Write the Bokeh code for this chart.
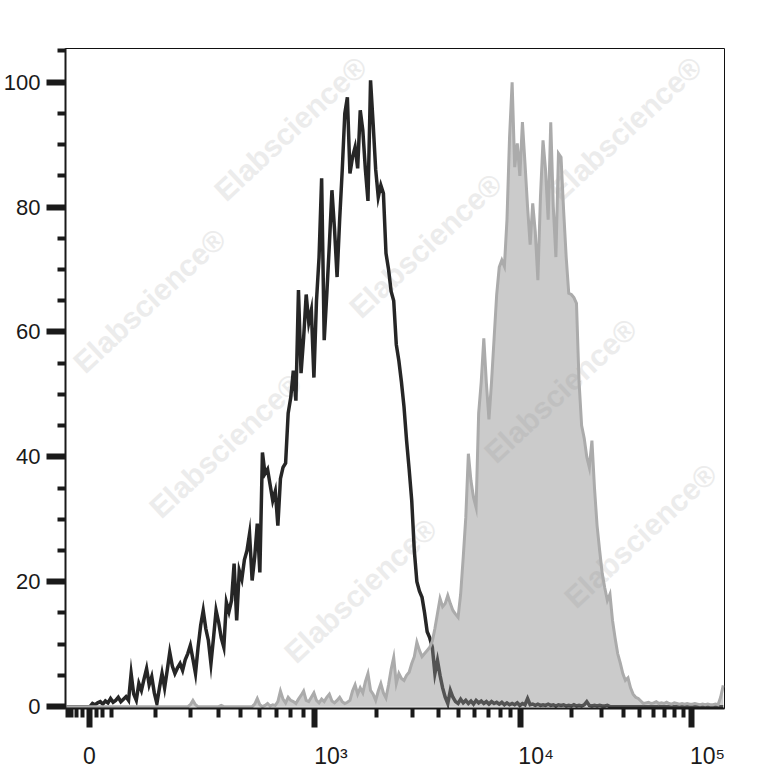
import numpy as np
from bokeh.plotting import figure
from bokeh.models import Range1d, FixedTicker
from bokeh.core.properties import value
from bokeh.embed import file_html
from bokeh.resources import INLINE

# ---------------- data: % of max, one value per display channel (256 channels) --------------
BLACK_COUNTS = [
    0, 0, 0, 0, 0, 0, 0, 0, 0, 0, 0.5, 0.3, 0.6, 0.8, 0.4, 0.9,
    0.6, 1.3, 0.7, 1.0, 1.5, 0.8, 1.2, 1.6, 1.0, 5.3, 2.0, 1.0, 3.7, 2.6, 4.4, 6.1,
    3.5, 4.8, 2.2, 0.5, 3.0, 5.3, 3.0, 5.8, 8.7, 6.5, 5.3, 6.2, 6.9, 5.8, 7.5, 8.5,
    9.8, 7.6, 5.3, 9.5, 13.0, 15.4, 12.5, 10.6, 6.9, 11.0, 15.4, 13.5, 11.0, 9.5, 16.7, 15.2,
    17.0, 22.9, 13.8, 21.8, 20.4, 23.5, 25.0, 27.7, 20.2, 24.0, 29.3, 21.5, 40.7, 37.3, 38.0, 35.5,
    33.0, 34.5, 29.0, 36.5, 38.3, 39.0, 47.0, 49.5, 53.8, 49.0, 66.7, 53.4, 59.0, 66.0, 61.5, 63.5,
    52.7, 65.0, 72.0, 84.6, 58.7, 66.0, 74.0, 82.7, 76.5, 68.8, 78.0, 85.9, 95.0, 97.6, 85.4, 88.0,
    89.6, 86.2, 95.5, 92.3, 86.0, 81.0, 100.3, 93.4, 86.0, 81.6, 83.5, 82.2, 72.6, 70.0, 66.5, 65.0,
    58.0, 55.4, 52.0, 48.0, 42.6, 38.0, 33.0, 25.0, 20.0, 18.5, 17.5, 15.0, 12.0, 11.0, 9.5, 5.3,
    7.4, 5.0, 3.0, 1.5, 0.5, 2.6, 1.5, 0.8, 0.5, 1.2, 0.6, 1.0, 0.5, 0.9, 0.4, 1.0,
    0.6, 0.9, 0.5, 0.8, 0.4, 0.8, 0.5, 0.7, 0.4, 0.7, 0.3, 0.6, 0.3, 0.5, 0.3, 0.6,
    0.2, 0.5, 0.3, 1.3, 0.3, 0.4, 0.2, 0.4, 0.2, 0.3, 0.2, 0.4, 0.2, 0.3, 0.1, 0.3,
    0.2, 0.3, 0.1, 0.2, 0.1, 0.3, 0.1, 0.2, 0.1, 0.3, 0.8, 0.2, 0.1, 0.2, 0.1, 0.2,
    0.1, 0.1, 0.2, 0, 0, 0, 0, 0, 0, 0, 0, 0, 0, 0, 0, 0,
    0, 0, 0, 0, 0, 0, 0, 0, 0, 0, 0, 0, 0, 0, 0, 0,
    0, 0, 0, 0, 0, 0, 0, 0, 0, 0, 0, 0, 0, 0, 0, 0,
]

GREY_COUNTS = [
    0, 0, 0, 0, 0, 0, 0, 0, 0, 0, 0, 0, 0, 0, 0, 0,
    0, 0, 0, 0, 0, 0, 0, 0, 0, 0, 0, 0, 0, 0, 0, 0,
    0, 0, 0, 0, 0, 0, 0, 0, 0, 0, 0, 0, 0, 0, 0, 0,
    0.3, 1.0, 0.3, 0, 0, 0, 0, 0, 0, 0, 0, 0, 0.2, 0, 0, 0,
    0, 0, 0, 0, 0, 0, 0, 0, 0, 0.4, 1.3, 0.3, 0, 0.2, 0.5, 0.1,
    0.3, 0.2, 0.8, 2.5, 1.2, 0.6, 1.5, 1.0, 0.8, 0.5, 1.2, 1.8, 2.5, 1.0, 0.8, 1.5,
    2.2, 1.0, 0.6, 1.2, 0.8, 1.5, 2.0, 0.9, 0.6, 1.0, 1.5, 0.8, 0.5, 0.7, 1.0, 2.5,
    3.5, 2.0, 3.0, 2.2, 4.0, 5.3, 2.6, 2.0, 1.0, 2.5, 3.7, 2.2, 1.4, 3.5, 6.0, 7.9,
    3.7, 5.3, 4.5, 4.2, 5.0, 5.5, 6.9, 8.0, 10.3, 9.0, 8.0, 8.5, 9.0, 9.5, 10.5, 12.5,
    14.9, 17.3, 16.0, 16.5, 17.8, 16.5, 15.4, 14.8, 14.3, 18.0, 23.9, 30.3, 40.5, 36.2, 33.5, 31.9,
    47.0, 52.0, 59.0, 51.8, 46.0, 52.0, 59.0, 66.0, 70.4, 71.5, 70.5, 78.0, 91.2, 100.0, 86.4, 90.2,
    85.0, 93.6, 87.0, 80.0, 74.0, 80.6, 76.0, 68.3, 81.6, 90.7, 85.9, 78.0, 93.6, 80.0, 72.0, 88.6,
    88.0, 79.5, 72.0, 66.2, 66.0, 65.5, 64.6, 52.0, 45.0, 43.0, 40.0, 38.3, 42.6, 35.0, 29.0, 25.0,
    21.3, 19.0, 17.0, 18.0, 13.8, 11.0, 8.5, 7.0, 5.3, 4.2, 4.6, 3.0, 2.0, 1.5, 1.3, 0.9,
    0.5, 0.6, 0.7, 0.5, 0.6, 0.8, 0.5, 0.6, 0.5, 0.7, 0.5, 0.4, 0.6, 0.5, 0.4, 0.5,
    0.4, 0.5, 0.4, 0.4, 0.5, 0.4, 0.3, 0.4, 0.3, 0.4, 0.3, 0.3, 0.4, 0.3, 1.5, 3.4,
]

N_CHANNELS = 256

# y axis
Y_MAJOR = [0, 20, 40, 60, 80, 100]
Y_MINOR = [v for v in range(5, 106, 5) if v % 20 != 0]
Y_LABELS = ["0", "20", "40", "60", "80", "100"]

# x axis (biexponential display): values of ticks
X_LABEL_VALUES = [0, 1e3, 1e4, 1e5]
X_LABELS = ["0", "10³", "10⁴", "10⁵"]
X_MINOR_VALUES = ([-100, -85, -60, -30, 30, 60, 100]
                  + [200, 300, 400, 500, 600, 700, 800, 900]
                  + [2e3, 3e3, 4e3, 5e3, 6e3, 7e3, 8e3, 9e3]
                  + [2e4, 3e4, 4e4, 5e4, 6e4, 7e4, 8e4, 9e4])

WATERMARK = "Elabscience®"

# display calibration of the biexponential axis (value -> channel)
CAL_VALUES = [-100, 0, 100, 1e3, 1e4, 1e5]
CAL_CHANNELS = [0.97, 9.3, 17.7, 96.9, 176.6, 243.2]
CAL_WIDTH = 200.0


def to_channel(v):
    s = np.arcsinh(np.asarray(v, dtype=float) / CAL_WIDTH)
    return np.interp(s, np.arcsinh(np.asarray(CAL_VALUES) / CAL_WIDTH), CAL_CHANNELS)


# ---------------- figure ----------------
Y_START, Y_END = -0.3, 105.4
FRAME_LEFT, FRAME_TOP = 65, 48
FRAME_W, FRAME_H = 659, 660
PX_PER_Y = FRAME_H / (Y_END - Y_START)
PX_PER_X = FRAME_W / N_CHANNELS

p = figure(width=777, height=778, output_backend="svg", toolbar_location=None,
           x_range=Range1d(0, N_CHANNELS), y_range=Range1d(Y_START, Y_END),
           min_border_left=FRAME_LEFT, min_border_right=53, min_border_top=FRAME_TOP,
           min_border_bottom=70, title=None)
p.background_fill_color = "white"
p.border_fill_color = "white"
p.xgrid.visible = False
p.ygrid.visible = False
p.outline_line_color = "#111111"
p.outline_line_width = 1

TICK_COLOR = "#1a1a1a"
TEXT_COLOR = "#1a1a1a"
FONT = "Liberation Sans"

for ax in (p.xaxis, p.yaxis):
    ax.major_tick_in = 0
    ax.minor_tick_in = 0
    ax.major_tick_out = 19
    ax.major_tick_line_width = 6
    ax.minor_tick_line_width = 4
    ax.major_tick_line_color = TICK_COLOR
    ax.minor_tick_line_color = TICK_COLOR
    ax.axis_line_width = 2
    ax.axis_line_color = TICK_COLOR
    ax.major_label_text_font = FONT
    ax.major_label_text_color = TEXT_COLOR

# y axis
p.yaxis.ticker = FixedTicker(ticks=Y_MAJOR, minor_ticks=Y_MINOR)
p.yaxis.major_label_overrides = {v: t for v, t in zip(Y_MAJOR, Y_LABELS)}
p.yaxis.minor_tick_out = 8
p.yaxis.major_label_standoff = 6
p.yaxis.major_label_text_font_size = "22px"

# x axis: the power-of-ten labels start at their tick (leading figure spaces
# push the centred text to the right of the tick)
LEAD = "\u2007\u2007\u2008"
x_label_ch = [round(float(c), 3) for c in to_channel(X_LABEL_VALUES)]
x_minor_ch = [float(c) for c in to_channel(X_MINOR_VALUES)]
p.xaxis.ticker = FixedTicker(ticks=x_label_ch, minor_ticks=x_minor_ch)
p.xaxis.major_label_overrides = {c: (t if t == "0" else LEAD + t) for c, t in zip(x_label_ch, X_LABELS)}
p.xaxis.minor_tick_out = 9
p.xaxis.major_label_standoff = 15
p.xaxis.major_label_text_font_size = "23px"

# ---------------- watermark (light, diagonal), kept inside the frame ----------------
wm_origin = np.array([290.0, 100.0])
wm_a = np.array([200.0, -200.0])
wm_b = np.array([135.0, 145.0])
MARGIN_X, MARGIN_Y = 84, 80
wm_px = []
for i in range(-3, 4):
    for j in range(-2, 5):
        pt = wm_origin + i * wm_a + j * wm_b
        if FRAME_LEFT - 20 < pt[0] < FRAME_LEFT + FRAME_W + 20 and FRAME_TOP - 20 < pt[1] < FRAME_TOP + FRAME_H + 20:
            cx = min(max(pt[0], FRAME_LEFT + MARGIN_X), FRAME_LEFT + FRAME_W - MARGIN_X)
            cy = min(max(pt[1], FRAME_TOP + MARGIN_Y), FRAME_TOP + FRAME_H - MARGIN_Y)
            wm_px.append((cx, cy))
wm_x = [(cx - FRAME_LEFT) / PX_PER_X for cx, cy in wm_px]
wm_y = [Y_END - (cy - FRAME_TOP) / PX_PER_Y for cx, cy in wm_px]
p.text(x=wm_x, y=wm_y, text=[WATERMARK] * len(wm_x), angle=43, angle_units="deg",
       text_align="center", text_baseline="middle", text_font=value(FONT),
       text_font_style="bold", text_font_size="30px", text_color="#ececec")

# ---------------- histograms ----------------
xc = np.arange(N_CHANNELS) + 0.5
black = np.asarray(BLACK_COUNTS, dtype=float)
grey = np.asarray(GREY_COUNTS, dtype=float)

p.line(xc, black, line_color="#262626", line_width=3.5, line_join="miter")
p.varea(x=xc, y1=np.zeros_like(grey), y2=grey, fill_color="#8c8c8c", fill_alpha=0.45)
p.line(xc, grey, line_color="#ababab", line_width=3, line_join="miter")

open("out.html", "w").write(file_html(p, INLINE))
